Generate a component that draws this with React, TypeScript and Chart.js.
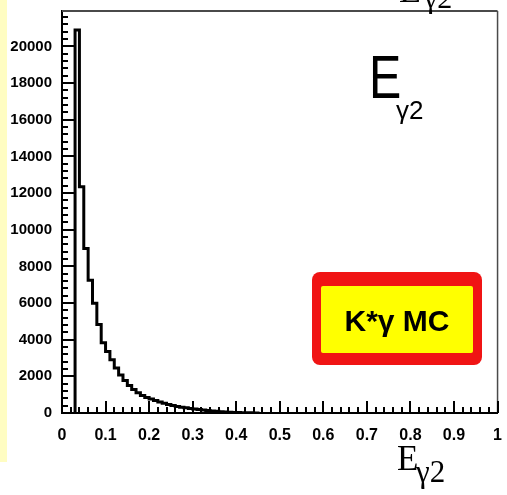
import React, { useEffect, useRef } from "react";
import { Chart, registerables } from "chart.js";

Chart.register(...registerables);

// ---------- data ----------
const binWidth = 0.01;
const binLow = [
  0.03, 0.04, 0.05, 0.06, 0.07, 0.08, 0.09, 0.1, 0.11, 0.12, 0.13, 0.14, 0.15,
  0.16, 0.17, 0.18, 0.19, 0.2, 0.21, 0.22, 0.23, 0.24, 0.25, 0.26, 0.27, 0.28,
  0.29, 0.3, 0.31, 0.32, 0.33, 0.34, 0.35, 0.36, 0.37, 0.38, 0.39, 0.4, 0.41,
  0.42, 0.43, 0.44,
];
const counts = [
  20900, 12350, 8980, 7240, 5985, 4830, 3835, 3350, 2900, 2450, 2080, 1780,
  1500, 1280, 1100, 960, 850, 760, 680, 600, 530, 465, 410, 360, 320, 280, 250,
  215, 185, 160, 135, 110, 90, 70, 52, 40, 30, 22, 15, 10, 7, 5,
];
const xTickValues = [0, 0.1, 0.2, 0.3, 0.4, 0.5, 0.6, 0.7, 0.8, 0.9, 1];
const xTickLabels = ["0", "0.1", "0.2", "0.3", "0.4", "0.5", "0.6", "0.7", "0.8", "0.9", "1"];
const yTickValues = [0, 2000, 4000, 6000, 8000, 10000, 12000, 14000, 16000, 18000, 20000];
const yTickLabels = ["0", "2000", "4000", "6000", "8000", "10000", "12000", "14000", "16000", "18000", "20000"];
const xMin = 0;
const xMax = 1;
const yMin = 0;
const yMax = 21935;
const xMinorStep = 0.02;
const yMinorStep = 400;
const titleMain = "E";
const titleSub = "γ2";
const boxLabel = "K*γ MC";

const SANS = "'Liberation Sans', Arial, Helvetica, sans-serif";
const SERIF = "'Liberation Serif', 'Times New Roman', serif";

const decorPlugin = {
  id: "decor",
  afterDraw(chart: any) {
    const { ctx, chartArea } = chart;
    const xs = chart.scales.x;
    const ys = chart.scales.y;
    const { left, right, top, bottom } = chartArea;
    ctx.save();

    // top and right frame
    ctx.strokeStyle = "#4a4a4a";
    ctx.lineWidth = 2;
    ctx.beginPath();
    ctx.moveTo(left, top);
    ctx.lineTo(right, top);
    ctx.stroke();
    ctx.lineWidth = 1.5;
    ctx.beginPath();
    ctx.moveTo(right, top);
    ctx.lineTo(right, bottom);
    ctx.stroke();

    // inward ticks
    ctx.strokeStyle = "#000";
    ctx.lineWidth = 2;
    ctx.beginPath();
    const nY = Math.floor((yMax - yMin) / yMinorStep + 1e-9);
    for (let i = 0; i <= nY; i++) {
      const v = yMin + i * yMinorStep;
      const py = Math.round(ys.getPixelForValue(v));
      const major = yTickValues.some((t) => Math.abs(t - v) < 1e-6);
      const len = major ? 12 : 6;
      ctx.moveTo(left, py);
      ctx.lineTo(left + len, py);
    }
    const nX = Math.round((xMax - xMin) / xMinorStep);
    for (let i = 0; i <= nX; i++) {
      const v = xMin + i * xMinorStep;
      const px = Math.round(xs.getPixelForValue(v));
      const major = xTickValues.some((t) => Math.abs(t - v) < 1e-6);
      const len = major ? 12 : 6;
      ctx.moveTo(px, bottom);
      ctx.lineTo(px, bottom - len);
    }
    ctx.stroke();

    // cut-off title at very top
    ctx.fillStyle = "#000";
    ctx.textBaseline = "alphabetic";
    ctx.textAlign = "left";
    ctx.font = `36px ${SERIF}`;
    ctx.fillText(titleMain, 399, 2);
    ctx.font = `30px ${SERIF}`;
    ctx.fillText(titleSub, 424, 8);

    // inside label
    ctx.save();
    ctx.translate(369, 98);
    ctx.scale(0.78, 1);
    ctx.font = `62px ${SANS}`;
    ctx.fillText(titleMain, 0, 0);
    ctx.restore();
    ctx.font = `26px ${SANS}`;
    ctx.fillText(titleSub, 396, 119);

    // x axis title (bottom right)
    ctx.font = `35px ${SERIF}`;
    ctx.fillText(titleMain, 397, 470);
    ctx.font = `31px ${SERIF}`;
    ctx.fillText(titleSub, 416, 482);

    // box
    ctx.fillStyle = "#f01414";
    ctx.beginPath();
    (ctx as any).roundRect(312, 272, 170, 93, 8);
    ctx.fill();
    ctx.fillStyle = "#ffff00";
    ctx.beginPath();
    (ctx as any).roundRect(321, 286, 152, 67, 2);
    ctx.fill();
    ctx.fillStyle = "#000";
    ctx.textAlign = "center";
    ctx.font = `bold 30px ${SANS}`;
    ctx.fillText(boxLabel, 397, 331);

    ctx.restore();
  },
};

export default function App() {
  const ref = useRef<HTMLCanvasElement | null>(null);
  useEffect(() => {
    if (!ref.current) return;
    const pts = [
      { x: binLow[0], y: 0 },
      ...binLow.map((x, i) => ({ x, y: counts[i] })),
      { x: binLow[binLow.length - 1] + binWidth, y: 0 },
    ];
    const chart = new Chart(ref.current, {
      type: "line",
      data: {
        datasets: [
          {
            data: pts,
            borderColor: "#000",
            borderWidth: 3,
            pointRadius: 0,
            fill: false,
            stepped: true,
            tension: 0,
          },
        ],
      },
      options: {
        animation: false,
        responsive: false,
        devicePixelRatio: 1,
        layout: { padding: { left: 0, right: 9, top: 5, bottom: 0 } },
        plugins: { legend: { display: false }, tooltip: { enabled: false } },
        scales: {
          x: {
            type: "linear",
            min: xMin,
            max: xMax,
            afterFit: (s: any) => {
              s.height = 82;
            },
            afterBuildTicks: (s: any) => {
              s.ticks = xTickValues.map((v) => ({ value: v }));
            },
            grid: { display: false },
            border: { display: true, color: "#000", width: 2 },
            ticks: {
              color: "#000",
              padding: 5,
              maxRotation: 0,
              autoSkip: false,
              font: { family: SANS, size: 16, weight: "bold" },
              callback: (v: any) => {
                const i = xTickValues.findIndex((t) => Math.abs(t - v) < 1e-9);
                return i >= 0 ? xTickLabels[i] : "";
              },
            },
          },
          y: {
            type: "linear",
            min: yMin,
            max: yMax,
            afterFit: (s: any) => {
              s.width = 62;
            },
            afterBuildTicks: (s: any) => {
              s.ticks = yTickValues.map((v) => ({ value: v }));
            },
            grid: { display: false },
            border: { display: true, color: "#000", width: 2 },
            ticks: {
              color: "#000",
              padding: 2,
              autoSkip: false,
              font: { family: SANS, size: 15, weight: "bold" },
              callback: (v: any) => {
                const i = yTickValues.findIndex((t) => Math.abs(t - v) < 1e-9);
                return i >= 0 ? yTickLabels[i] : "";
              },
            },
          },
        },
      },
      plugins: [decorPlugin],
    } as any);
    return () => chart.destroy();
  }, []);

  return (
    <div style={{ position: "absolute", left: 0, top: 0, width: 507, height: 495, background: "#fff" }}>
      <div
        style={{
          position: "absolute",
          left: 0,
          top: 0,
          width: 7,
          height: 462,
          background: "#fffdc2",
        }}
      />
      <canvas
        ref={ref}
        width={507}
        height={495}
        style={{ position: "absolute", left: 0, top: 0, width: 507, height: 495, display: "block" }}
      />
    </div>
  );
}
